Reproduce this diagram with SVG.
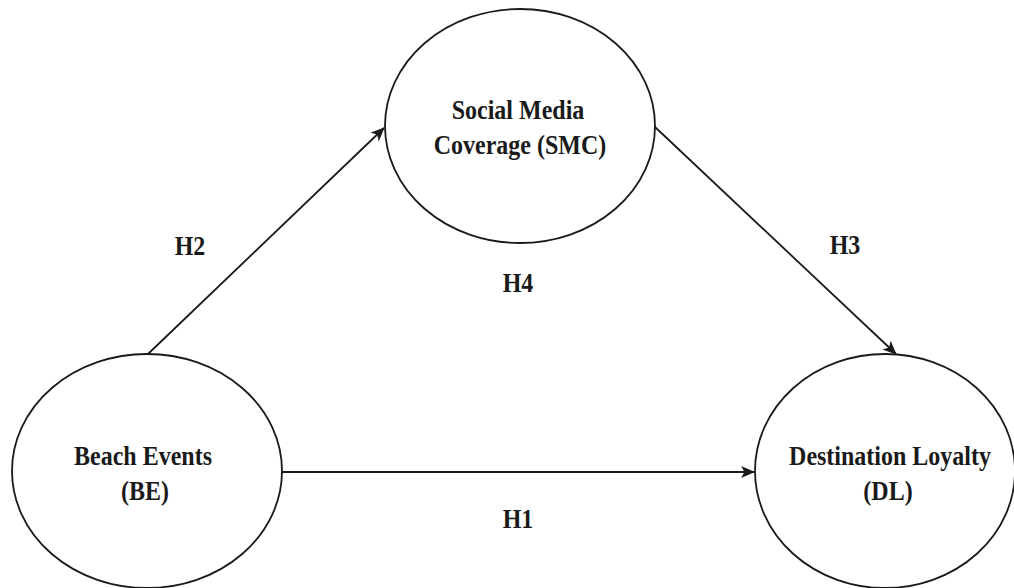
<svg xmlns="http://www.w3.org/2000/svg" width="1014" height="588" viewBox="0 0 1014 588">
  <style>
    .node { fill: #ffffff; stroke: #1a1a1a; stroke-width: 1.8; }
    .lbl { font-family: "Liberation Serif", "Times New Roman", serif; font-weight: bold; font-size: 24px; fill: #1a1a1a; text-anchor: middle; }
    .edge { stroke: #1a1a1a; stroke-width: 1.8; fill: none; marker-end: url(#arrow); }
  </style>
  <defs>
    <marker id="arrow" viewBox="0 0 14 12" refX="13" refY="6" markerWidth="14" markerHeight="12" markerUnits="userSpaceOnUse" orient="auto">
      <path d="M0,0 L14,6 L0,12 L3.5,6 Z" fill="#1a1a1a"/>
    </marker>
  </defs>
  <rect width="1014" height="588" fill="#ffffff"/>
  <g id="connectors">
    <line class="edge" x1="148" y1="354" x2="384" y2="128"/>
    <line class="edge" x1="655" y1="127" x2="896" y2="354"/>
    <line class="edge" x1="282" y1="472" x2="754" y2="472"/>
  </g>
  <g id="node-smc">
    <ellipse class="node" cx="520" cy="126" rx="135" ry="117"/>
    <text class="lbl" transform="translate(518,119) scale(1,1.18)">Social Media</text>
    <text class="lbl" transform="translate(520,154) scale(1,1.18)">Coverage (SMC)</text>
  </g>
  <g id="node-be">
    <ellipse class="node" cx="147" cy="471" rx="135" ry="117"/>
    <text class="lbl" transform="translate(143,465) scale(1,1.18)">Beach Events</text>
    <text class="lbl" transform="translate(145,500) scale(1,1.18)">(BE)</text>
  </g>
  <g id="node-dl">
    <ellipse class="node" cx="885" cy="471" rx="130" ry="117"/>
    <text class="lbl" transform="translate(890,465) scale(1,1.18)">Destination Loyalty</text>
    <text class="lbl" transform="translate(888,500) scale(1,1.18)">(DL)</text>
  </g>
  <g id="labels">
    <text class="lbl" transform="translate(190,255) scale(1,1.18)">H2</text>
    <text class="lbl" transform="translate(845,254) scale(1,1.18)">H3</text>
    <text class="lbl" transform="translate(518,292) scale(1,1.18)">H4</text>
    <text class="lbl" transform="translate(518,528) scale(1,1.18)">H1</text>
  </g>
</svg>
